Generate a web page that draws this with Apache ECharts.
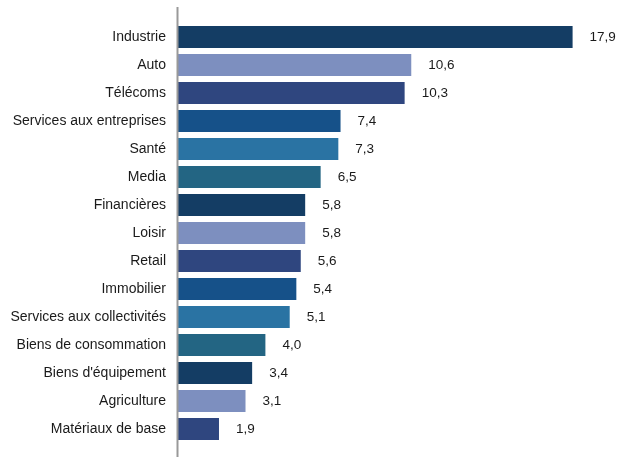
<!DOCTYPE html>
<html>
<head>
<meta charset="utf-8">
<script src="https://cdn.jsdelivr.net/npm/echarts@6/dist/echarts.min.js"></script>
<style>
  html, body { margin: 0; padding: 0; background: #ffffff; }
  #chart { width: 631px; height: 457px; }
</style>
</head>
<body>
<div id="chart"></div>
<script>
// Sectors, top to bottom
const categories = [
  "Industrie", "Auto", "Télécoms", "Services aux entreprises", "Santé", "Media",
  "Financières", "Loisir", "Retail", "Immobilier", "Services aux collectivités",
  "Biens de consommation", "Biens d'équipement", "Agriculture", "Matériaux de base"
];
const values = [17.9, 10.6, 10.3, 7.4, 7.3, 6.5, 5.8, 5.8, 5.6, 5.4, 5.1, 4.0, 3.4, 3.1, 1.9];

// Six-colour cycle used for the bars
const palette = ["#143d64", "#7d8fbf", "#2f467f", "#165189", "#2a73a3", "#236583"];

const chart = echarts.init(document.getElementById('chart'), null, { renderer: 'canvas' });

const fmt = v => v.toFixed(1).replace('.', ',');

chart.setOption({
  animation: false,
  backgroundColor: '#ffffff',
  textStyle: { fontFamily: 'Liberation Sans, Arial, sans-serif' },
  grid: { left: 177, top: 23, width: 442, height: 420, containLabel: false },
  xAxis: {
    type: 'value',
    min: 0, max: 20,
    show: false
  },
  yAxis: {
    type: 'category',
    data: categories,
    inverse: true,
    axisLine: { show: false },
    axisTick: { show: false },
    splitLine: { show: false },
    axisLabel: {
      color: '#1a1a1a',
      fontSize: 14,
      margin: 11,
      fontFamily: 'Liberation Sans, Arial, sans-serif'
    }
  },
  series: [{
    type: 'bar',
    data: values.map((v, i) => ({ value: v, itemStyle: { color: palette[i % palette.length] } })),
    barWidth: 22,
    label: {
      show: true,
      position: 'right',
      distance: 17,
      color: '#1a1a1a',
      fontSize: 13.5,
      fontFamily: 'Liberation Sans, Arial, sans-serif',
      formatter: p => fmt(p.value)
    }
  }],
  graphic: [{
    type: 'line',
    shape: { x1: 177.5, y1: 7, x2: 177.5, y2: 457 },
    style: { stroke: '#999999', lineWidth: 2 },
    z: 10
  }]
});
</script>
</body>
</html>
